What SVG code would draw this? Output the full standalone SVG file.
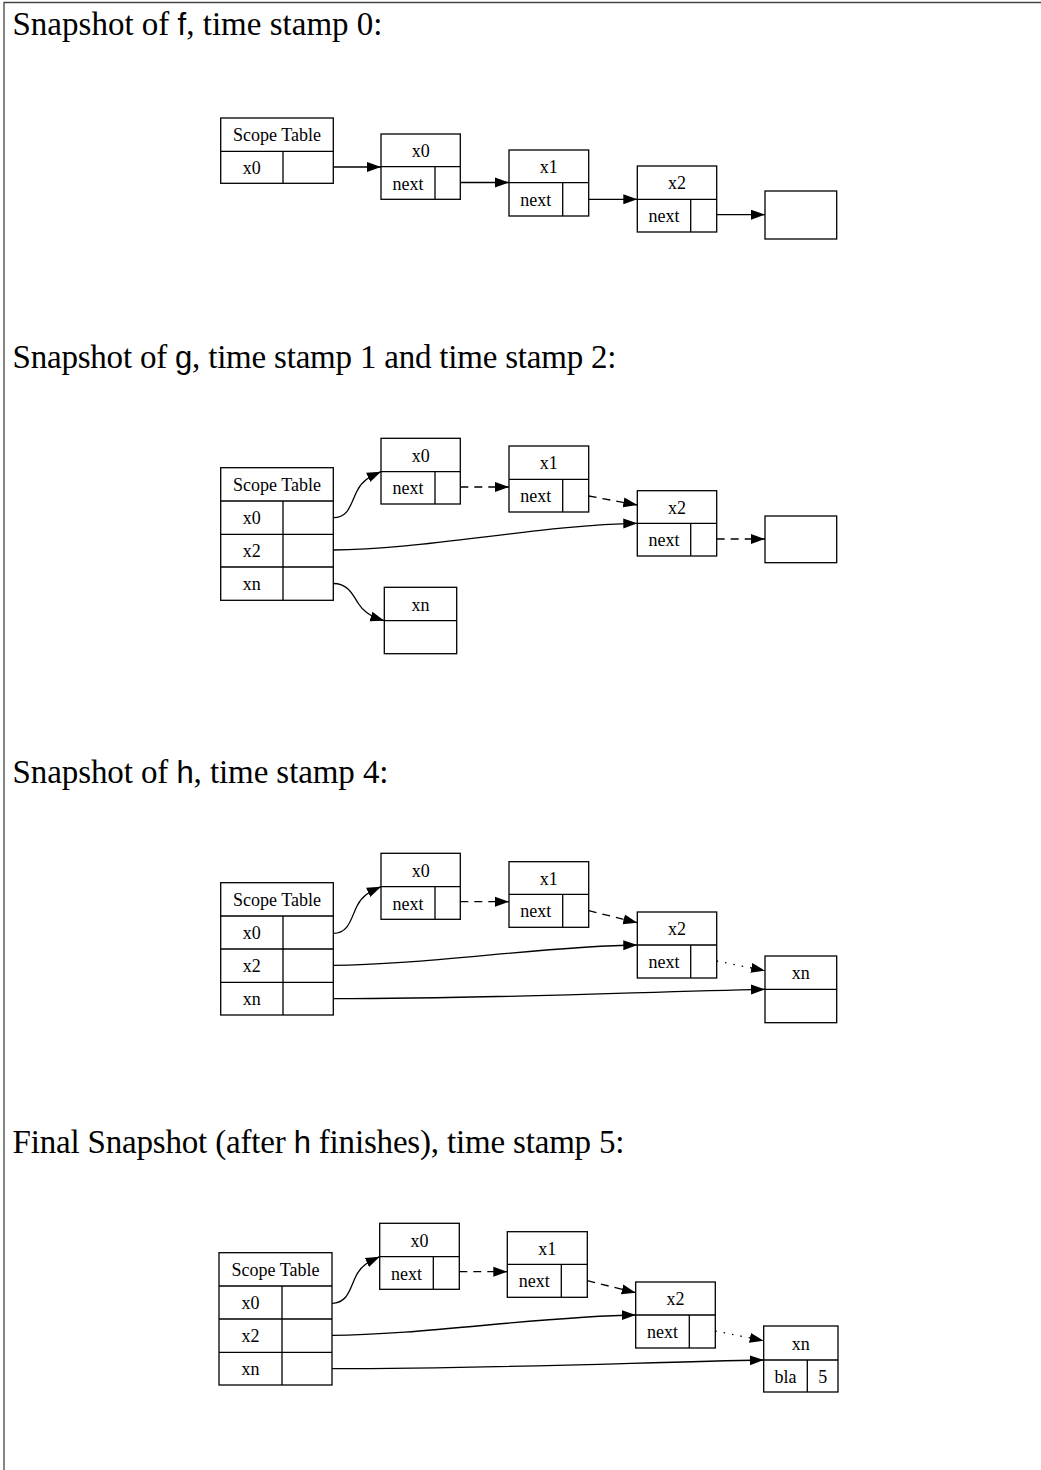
<svg xmlns="http://www.w3.org/2000/svg" width="1041" height="1470" viewBox="0 0 1041 1470">
  <style>
    .frame { fill: none; stroke: #444; stroke-width: 1.3; }
    .head { font-family: "Liberation Serif", "Times New Roman", serif; font-size: 33px; fill: #000; }
    .sf { font-family: "Liberation Sans", Arial, sans-serif; font-size: 31px; }
    .box { fill: #fff; stroke: #000; stroke-width: 1.3; }
    .cell { stroke: #000; stroke-width: 1.3; fill: none; }
    .lbl { font-family: "Liberation Serif", "Times New Roman", serif; font-size: 18px; fill: #000; text-anchor: middle; }
    .edge { fill: none; stroke: #000; stroke-width: 1.3; marker-end: url(#arr); }
    .dash { stroke-dasharray: 8 6; }
    .dot { stroke-dasharray: 1.5 7; }
  </style>
  <defs>
    <marker id="arr" markerUnits="userSpaceOnUse" markerWidth="15" markerHeight="11" viewBox="0 0 15 11" refX="14" refY="5.5" orient="auto">
      <path d="M0,0.5 L14,5.5 L0,10.5 z" fill="#000" stroke="none"/>
    </marker>
  </defs>

  <rect width="1041" height="1470" fill="#fff"/>
  <path class="frame" d="M4,1470 V2.5 H1041"/>

  <!-- section headings -->
  <text class="head" x="12.5" y="35" textLength="370">Snapshot of <tspan class="sf">f</tspan>, time stamp 0:</text>
  <text class="head" x="12.5" y="368" textLength="604">Snapshot of <tspan class="sf">g</tspan>, time stamp 1 and time stamp 2:</text>
  <text class="head" x="12.5" y="783" textLength="376">Snapshot of <tspan class="sf">h</tspan>, time stamp 4:</text>
  <text class="head" x="12.5" y="1153" textLength="612">Final Snapshot (after <tspan class="sf">h</tspan> finishes), time stamp 5:</text>

  <!-- ===== snapshot of f ===== -->
  <g id="f-scope">
    <rect class="box" x="220.7" y="118" width="112.6" height="65.3"/>
    <path class="cell" d="M220.7,151.3 H333.3 M283,151.3 V183.3"/>
    <text class="lbl" x="277" y="141.2">Scope Table</text>
    <text class="lbl" x="251.8" y="173.8">x0</text>
  </g>
  <g id="f-x0">
    <rect class="box" x="381" y="134" width="79.3" height="65.3"/>
    <path class="cell" d="M381,166.7 H460.3 M435,166.7 V199.3"/>
    <text class="lbl" x="420.7" y="156.8">x0</text>
    <text class="lbl" x="408" y="189.5">next</text>
  </g>
  <g id="f-x1">
    <rect class="box" x="509" y="150" width="79.7" height="66"/>
    <path class="cell" d="M509,182.7 H588.7 M562.7,182.7 V216"/>
    <text class="lbl" x="548.8" y="172.8">x1</text>
    <text class="lbl" x="535.8" y="205.8">next</text>
  </g>
  <g id="f-x2">
    <rect class="box" x="637.3" y="166" width="79.4" height="66"/>
    <path class="cell" d="M637.3,199.3 H716.7 M690.7,199.3 V232"/>
    <text class="lbl" x="677" y="189.2">x2</text>
    <text class="lbl" x="664" y="222.2">next</text>
  </g>
  <g id="f-end">
    <rect class="box" x="765" y="191" width="71.7" height="48"/>
  </g>
  <g id="f-edges">
    <path class="edge" d="M333.3,167 H381"/>
    <path class="edge" d="M460.3,182.5 H509"/>
    <path class="edge" d="M588.7,199.3 H637.3"/>
    <path class="edge" d="M716.7,214.7 H765"/>
  </g>

  <!-- ===== snapshot of g ===== -->
  <g id="g-scope">
    <rect class="box" x="220.7" y="467.7" width="112.6" height="132.6"/>
    <path class="cell" d="M220.7,501 H333.3 M220.7,534.3 H333.3 M220.7,567 H333.3 M283,501 V600.3"/>
    <text class="lbl" x="277" y="490.8">Scope Table</text>
    <text class="lbl" x="251.8" y="524.2">x0</text>
    <text class="lbl" x="251.8" y="557.2">x2</text>
    <text class="lbl" x="251.8" y="590.2">xn</text>
  </g>
  <g id="g-x0">
    <rect class="box" x="381" y="438.3" width="79.3" height="65.7"/>
    <path class="cell" d="M381,471.7 H460.3 M435,471.7 V504"/>
    <text class="lbl" x="420.7" y="461.5">x0</text>
    <text class="lbl" x="408" y="494.3">next</text>
  </g>
  <g id="g-x1">
    <rect class="box" x="509" y="446" width="79.7" height="66"/>
    <path class="cell" d="M509,479.3 H588.7 M562.7,479.3 V512"/>
    <text class="lbl" x="548.8" y="469.2">x1</text>
    <text class="lbl" x="535.8" y="502.2">next</text>
  </g>
  <g id="g-x2">
    <rect class="box" x="637.3" y="490.7" width="79.4" height="65.3"/>
    <path class="cell" d="M637.3,523.3 H716.7 M690.7,523.3 V556"/>
    <text class="lbl" x="677" y="513.5">x2</text>
    <text class="lbl" x="664" y="546.2">next</text>
  </g>
  <g id="g-end">
    <rect class="box" x="765" y="516" width="71.7" height="46.7"/>
  </g>
  <g id="g-xn">
    <rect class="box" x="384.3" y="587.3" width="72.4" height="66.4"/>
    <path class="cell" d="M384.3,620.7 H456.7"/>
    <text class="lbl" x="420.5" y="610.5">xn</text>
  </g>
  <g id="g-edges">
    <path class="edge" d="M333.3,517.7 C349,517.7 351,503 357,491 C362,481 369,477 381,471.7"/>
    <path class="edge dash" d="M460.3,487 H509"/>
    <path class="edge dash" d="M588.7,496 L637.3,505"/>
    <path class="edge" d="M333.3,550 C420,550 545,524.5 637.3,523.3"/>
    <path class="edge dash" d="M716.7,539 H765"/>
    <path class="edge" d="M333.3,583.5 C347,583.5 352,593 358,603 C363,611 369,616 384.3,620.7"/>
  </g>

  <!-- ===== snapshot of h ===== -->
  <g id="h-scope">
    <rect class="box" x="220.7" y="882.7" width="112.6" height="132.3"/>
    <path class="cell" d="M220.7,916 H333.3 M220.7,949 H333.3 M220.7,982.3 H333.3 M283,916 V1015"/>
    <text class="lbl" x="277" y="905.8">Scope Table</text>
    <text class="lbl" x="251.8" y="939">x0</text>
    <text class="lbl" x="251.8" y="972.2">x2</text>
    <text class="lbl" x="251.8" y="1005.2">xn</text>
  </g>
  <g id="h-x0">
    <rect class="box" x="381" y="853.3" width="79.3" height="66"/>
    <path class="cell" d="M381,886.7 H460.3 M435,886.7 V919.3"/>
    <text class="lbl" x="420.7" y="876.5">x0</text>
    <text class="lbl" x="408" y="909.5">next</text>
  </g>
  <g id="h-x1">
    <rect class="box" x="509" y="861.7" width="79.7" height="65.6"/>
    <path class="cell" d="M509,894.3 H588.7 M562.7,894.3 V927.3"/>
    <text class="lbl" x="548.8" y="884.5">x1</text>
    <text class="lbl" x="535.8" y="917.3">next</text>
  </g>
  <g id="h-x2">
    <rect class="box" x="637.3" y="912" width="79.4" height="66"/>
    <path class="cell" d="M637.3,945 H716.7 M690.7,945 V978"/>
    <text class="lbl" x="677" y="935">x2</text>
    <text class="lbl" x="664" y="968">next</text>
  </g>
  <g id="h-xn">
    <rect class="box" x="765" y="956" width="71.7" height="66.7"/>
    <path class="cell" d="M765,989.3 H836.7"/>
    <text class="lbl" x="800.8" y="979">xn</text>
  </g>
  <g id="h-edges">
    <path class="edge" d="M333.3,933.3 C349,933.3 351,918 357,906 C362,896 369,892 381,886.7"/>
    <path class="edge dash" d="M460.3,901.7 H509"/>
    <path class="edge dash" d="M588.7,910.7 L637.3,922.7"/>
    <path class="edge" d="M333.3,965.3 C420,965.3 545,946 637.3,945"/>
    <path class="edge dot" d="M716.7,961 L765,970.7"/>
    <path class="edge" d="M333.3,998.7 C500,998.7 640,991.8 765,989.3"/>
  </g>

  <!-- ===== final snapshot ===== -->
  <g id="final-scope">
    <rect class="box" x="219" y="1252.7" width="113" height="132.3"/>
    <path class="cell" d="M219,1286 H332 M219,1319 H332 M219,1352.3 H332 M282,1286 V1385"/>
    <text class="lbl" x="275.5" y="1275.8">Scope Table</text>
    <text class="lbl" x="250.5" y="1309">x0</text>
    <text class="lbl" x="250.5" y="1342.2">x2</text>
    <text class="lbl" x="250.5" y="1375.2">xn</text>
  </g>
  <g id="final-x0">
    <rect class="box" x="379.7" y="1223.3" width="79.6" height="66"/>
    <path class="cell" d="M379.7,1256.7 H459.3 M433.3,1256.7 V1289.3"/>
    <text class="lbl" x="419.5" y="1246.5">x0</text>
    <text class="lbl" x="406.5" y="1279.5">next</text>
  </g>
  <g id="final-x1">
    <rect class="box" x="507.3" y="1231.7" width="80" height="65.6"/>
    <path class="cell" d="M507.3,1264.3 H587.3 M561.3,1264.3 V1297.3"/>
    <text class="lbl" x="547.3" y="1254.5">x1</text>
    <text class="lbl" x="534.3" y="1287.3">next</text>
  </g>
  <g id="final-x2">
    <rect class="box" x="635.7" y="1282" width="79.6" height="66"/>
    <path class="cell" d="M635.7,1315 H715.3 M689.3,1315 V1348"/>
    <text class="lbl" x="675.5" y="1305">x2</text>
    <text class="lbl" x="662.5" y="1338">next</text>
  </g>
  <g id="final-xn">
    <rect class="box" x="763.7" y="1326" width="74.3" height="66"/>
    <path class="cell" d="M763.7,1360 H838 M807.3,1360 V1392"/>
    <text class="lbl" x="800.8" y="1349.5">xn</text>
    <text class="lbl" x="785.5" y="1382.5">bla</text>
    <text class="lbl" x="822.7" y="1382.5">5</text>
  </g>
  <g id="final-edges">
    <path class="edge" d="M332,1303.3 C348,1303.3 350,1288 356,1276 C361,1266 368,1262 379.7,1256.7"/>
    <path class="edge dash" d="M459.3,1271.7 H507.3"/>
    <path class="edge dash" d="M587.3,1280.7 L635.7,1292.7"/>
    <path class="edge" d="M332,1335.3 C419,1335.3 544,1316 635.7,1315"/>
    <path class="edge dot" d="M715.3,1331 L763.7,1340.7"/>
    <path class="edge" d="M332,1368.7 C499,1368.7 639,1362.3 763.7,1360"/>
  </g>
</svg>
